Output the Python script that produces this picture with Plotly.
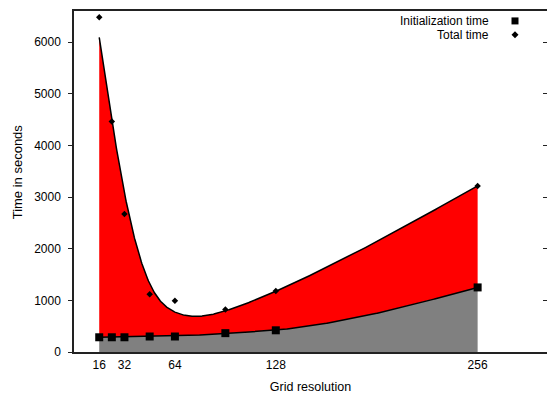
import numpy as np
import plotly.graph_objects as go

# Grid resolution and measured timings (seconds)
resolution = [16, 24, 32, 48, 64, 96, 128, 256]
init_time = [285, 285, 285, 300, 300, 365, 420, 1250]
total_time = [6480, 4460, 2670, 1120, 990, 825, 1180, 3215]
y_ticks = [0, 1000, 2000, 3000, 4000, 5000, 6000]
x_ticks = [16, 32, 64, 128, 256]

SMOOTHING = 1000.0


def smoothing_spline(x, y, lam):
    """Natural cubic smoothing spline (Reinsch); returns knots, values and 2nd derivatives."""
    x = np.asarray(x, float)
    y = np.asarray(y, float)
    n = len(x)
    h = np.diff(x)
    Q = np.zeros((n, n - 2))
    R = np.zeros((n - 2, n - 2))
    for j in range(1, n - 1):
        Q[j - 1, j - 1] = 1 / h[j - 1]
        Q[j, j - 1] = -1 / h[j - 1] - 1 / h[j]
        Q[j + 1, j - 1] = 1 / h[j]
        R[j - 1, j - 1] = (h[j - 1] + h[j]) / 3
        if j < n - 2:
            R[j - 1, j] = R[j, j - 1] = h[j] / 6
    K = Q @ np.linalg.solve(R, Q.T)
    f = np.linalg.solve(np.eye(n) + lam * K, y)
    g = np.concatenate([[0.0], np.linalg.solve(R, Q.T @ f), [0.0]])
    return x, f, g


def spline_eval(spl, xx):
    x, f, g = spl
    i = np.clip(np.searchsorted(x, xx, side="right") - 1, 0, len(x) - 2)
    h = x[i + 1] - x[i]
    a = xx - x[i]
    b = x[i + 1] - xx
    return (a * f[i + 1] + b * f[i]) / h - a * b / 6 * (
        (1 + a / h) * g[i + 1] + (1 + b / h) * g[i]
    )


xx = np.linspace(resolution[0], resolution[-1], 800)
init_curve = spline_eval(smoothing_spline(resolution, init_time, SMOOTHING), xx)
total_curve = spline_eval(smoothing_spline(resolution, total_time, SMOOTHING), xx)

fig = go.Figure()

# grey area under the smoothed initialization time
fig.add_trace(go.Scatter(
    x=xx, y=init_curve, mode="lines", line=dict(color="black", width=1.5),
    fill="tozeroy", fillcolor="#808080", showlegend=False, hoverinfo="skip",
))
# red band up to the smoothed total time
fig.add_trace(go.Scatter(
    x=xx, y=total_curve, mode="lines", line=dict(color="black", width=1.5),
    fill="tonexty", fillcolor="#ff0000", showlegend=False, hoverinfo="skip",
))

fig.add_trace(go.Scatter(
    x=resolution, y=init_time, mode="markers", name="Initialization time",
    marker=dict(symbol="square", size=8, color="black"), showlegend=False,
))
fig.add_trace(go.Scatter(
    x=resolution, y=total_time, mode="markers", name="Total time",
    marker=dict(symbol="diamond", size=5, color="black"), showlegend=False,
))
# carries the mirrored ticks on the right
fig.add_trace(go.Scatter(x=[None], y=[None], yaxis="y2", showlegend=False))

family = "Liberation Sans, Arial, sans-serif"
font = dict(family=family, size=12, color="black")

fig.update_layout(
    width=547, height=394,
    margin=dict(l=74, r=0, t=11, b=39),
    plot_bgcolor="white", paper_bgcolor="white",
    font=font,
    showlegend=False,
    xaxis=dict(
        range=[0, 300], tickvals=x_ticks, ticks="", ticklabelstandoff=1,
        tickfont=font,
        showline=True, linecolor="#222", linewidth=1.5, mirror=True,
        showgrid=False, zeroline=False,
        title=dict(text="Grid resolution", standoff=13,
                   font=dict(family=family, size=12.5, color="black")),
    ),
    yaxis=dict(
        range=[0, 6600], tickvals=y_ticks, ticks="outside", ticklen=4,
        tickcolor="#222", ticklabelstandoff=5, tickfont=font,
        showline=True, linecolor="#222", linewidth=1.5,
        showgrid=False, zeroline=False,
    ),
    yaxis2=dict(
        overlaying="y", side="right", range=[0, 6600], tickvals=y_ticks,
        ticks="inside", ticklen=4, tickcolor="#222", showticklabels=False,
        showline=False, showgrid=False, zeroline=False,
    ),
    annotations=[
        dict(text="Time in seconds", textangle=-90, xref="paper", yref="paper",
             x=(17.5 - 74) / 473, y=(354.5 - 173) / 343.5, showarrow=False,
             xanchor="center", yanchor="middle",
             font=dict(family=family, size=13, color="black")),
        dict(text="Initialization time", xref="paper", yref="paper",
             x=(491 - 74) / 473, y=(354.5 - 21) / 343.5, showarrow=False,
             xanchor="right", yanchor="middle", font=font),
        dict(text="Total time", xref="paper", yref="paper",
             x=(491 - 74) / 473, y=(354.5 - 35) / 343.5, showarrow=False,
             xanchor="right", yanchor="middle", font=font),
    ],
    shapes=[
        dict(type="rect", xref="paper", yref="paper", xsizemode="pixel", ysizemode="pixel",
             xanchor=(515 - 74) / 473, yanchor=(354.5 - 21) / 343.5,
             x0=-3.5, x1=3.5, y0=-3.5, y1=3.5, fillcolor="black", line=dict(width=0)),
        dict(type="path", xref="paper", yref="paper", xsizemode="pixel", ysizemode="pixel",
             xanchor=(515 - 74) / 473, yanchor=(354.5 - 35) / 343.5,
             path="M 0 -3.5 L 3.5 0 L 0 3.5 L -3.5 0 Z", fillcolor="black", line=dict(width=0)),
    ],
)

fig.write_html("out.html")
